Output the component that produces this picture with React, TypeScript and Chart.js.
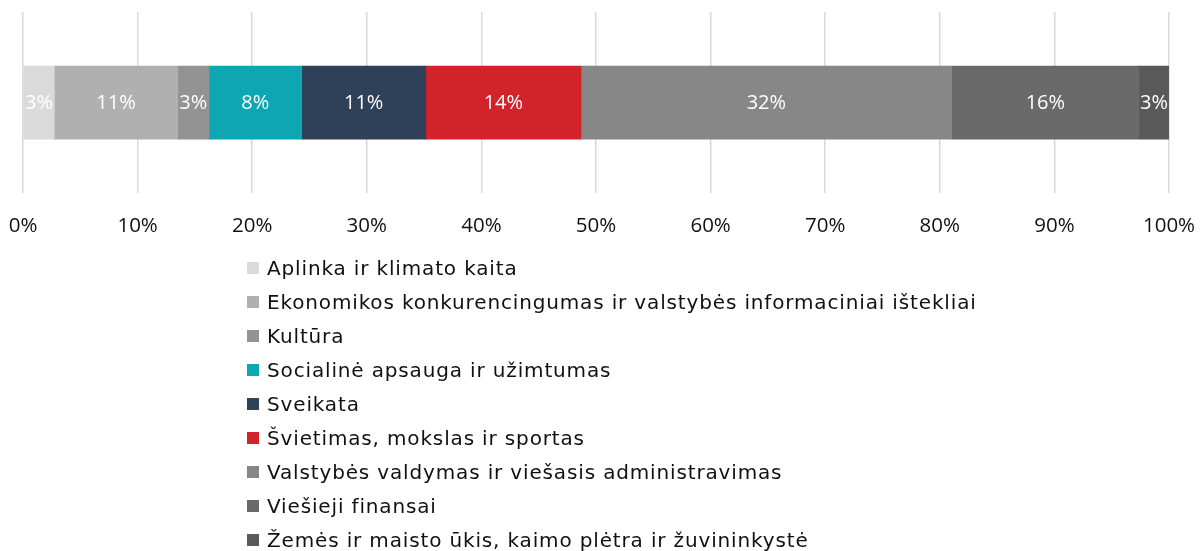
import React, { useEffect, useRef } from "react";
import { Chart, registerables } from "chart.js";

Chart.register(...registerables);

const categories: string[] = [
  "Aplinka ir klimato kaita",
  "Ekonomikos konkurencingumas ir valstybės informaciniai ištekliai",
  "Kultūra",
  "Socialinė apsauga ir užimtumas",
  "Sveikata",
  "Švietimas, mokslas ir sportas",
  "Valstybės valdymas ir viešasis administravimas",
  "Viešieji finansai",
  "Žemės ir maisto ūkis, kaimo plėtra ir žuvininkystė",
];

const shares: number[] = [2.73, 10.77, 2.73, 8.09, 10.82, 13.55, 32.35, 16.34, 2.62];

const colors: string[] = [
  "#DADADA",
  "#B0B0B0",
  "#939393",
  "#0DA6B2",
  "#2F4059",
  "#D2232A",
  "#878787",
  "#6A6A6A",
  "#595959",
];

const tickValues: number[] = [0, 10, 20, 30, 40, 50, 60, 70, 80, 90, 100];

const valueLabelPlugin = {
  id: "valueLabels",
  afterDatasetsDraw(chart: any) {
    const ctx = chart.ctx;
    ctx.save();
    ctx.fillStyle = "#ffffff";
    ctx.font = "20px 'Open Sans'";
    ctx.textAlign = "center";
    ctx.textBaseline = "middle";
    chart.data.datasets.forEach((ds: any, i: number) => {
      const meta = chart.getDatasetMeta(i);
      meta.data.forEach((el: any, j: number) => {
        const v = ds.data[j];
        const c = el.getCenterPoint();
        ctx.fillText(Math.round(v) + "%", c.x, c.y + 1);
      });
    });
    ctx.restore();
  },
};

export default function App() {
  const ref = useRef<HTMLCanvasElement>(null);
  useEffect(() => {
    if (!ref.current) return;
    const chart = new Chart(ref.current, {
      type: "bar",
      data: {
        labels: [""],
        datasets: categories.map((name, i) => ({
          label: name,
          data: [shares[i]],
          backgroundColor: colors[i],
          borderWidth: 0,
          barThickness: 73,
        })),
      },
      options: {
        indexAxis: "y",
        animation: false,
        responsive: false,
        maintainAspectRatio: false,
        layout: { padding: { left: 23, right: 32, top: 12, bottom: 4 } },
        plugins: {
          legend: { display: false },
          tooltip: { enabled: false },
        },
        scales: {
          x: {
            stacked: true,
            min: 0,
            max: 100,
            afterBuildTicks: (scale: any) => {
              scale.ticks = tickValues.map((v) => ({ value: v }));
            },
            afterFit: (scale: any) => {
              scale.paddingLeft = 0;
              scale.paddingRight = 0;
            },
            grid: { color: "#D9D9D9", lineWidth: 1.5, drawTicks: false },
            border: { display: false },
            ticks: {
              padding: 20,
              color: "#111111",
              font: { family: "'Open Sans'", size: 20.5 },
              callback: (v: any) => v + "%",
            },
          },
          y: {
            stacked: true,
            display: false,
          },
        },
      },
      plugins: [valueLabelPlugin],
    });
    return () => chart.destroy();
  }, []);

  return (
    <div
      style={{
        position: "absolute",
        left: 0,
        top: 0,
        width: 1201,
        height: 551,
        background: "#ffffff",
        overflow: "hidden",
      }}
    >
      <canvas ref={ref} width={1201} height={262} style={{ display: "block" }} />
      <div style={{ position: "absolute", left: 247, top: 251 }}>
        {categories.map((name, i) => (
          <div
            key={name}
            style={{
              height: 34,
              display: "flex",
              alignItems: "center",
              fontFamily: "'DejaVu Sans', sans-serif",
              fontSize: 20,
              letterSpacing: "0.85px",
              color: "#111111",
              whiteSpace: "nowrap",
            }}
          >
            <span
              style={{
                display: "inline-block",
                width: 12,
                height: 12,
                background: colors[i],
                marginRight: 8,
              }}
            />
            <span>{name}</span>
          </div>
        ))}
      </div>
    </div>
  );
}
